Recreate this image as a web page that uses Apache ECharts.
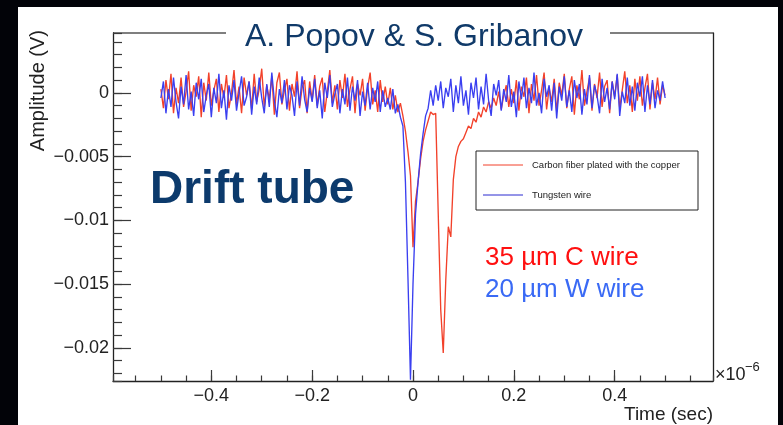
<!DOCTYPE html>
<html>
<head>
<meta charset="utf-8">
<script src="https://cdn.jsdelivr.net/npm/echarts@6/dist/echarts.min.js"></script>
<style>
html,body{margin:0;padding:0;background:#020308;width:783px;height:425px;overflow:hidden;}
#panel{position:absolute;left:18px;top:7px;width:760px;height:418px;background:#ffffff;}
#c{position:absolute;left:0;top:0;width:783px;height:425px;}
</style>
</head>
<body>
<div id="panel"></div>
<div id="c"></div>
<script>
// Sampling times in microseconds (axis shown with x10^-6 multiplier)
const timeMicroseconds = [
-0.5,-0.495,-0.49,-0.485,-0.48,-0.475,-0.47,-0.465,-0.46,-0.455,-0.45,-0.445,-0.44,-0.435,-0.43,-0.425,-0.42,-0.415,-0.41,-0.405,
-0.4,-0.395,-0.39,-0.385,-0.38,-0.375,-0.37,-0.365,-0.36,-0.355,-0.35,-0.345,-0.34,-0.335,-0.33,-0.325,-0.32,-0.315,-0.31,-0.305,
-0.3,-0.295,-0.29,-0.285,-0.28,-0.275,-0.27,-0.265,-0.26,-0.255,-0.25,-0.245,-0.24,-0.235,-0.23,-0.225,-0.22,-0.215,-0.21,-0.205,
-0.2,-0.195,-0.19,-0.185,-0.18,-0.175,-0.17,-0.165,-0.16,-0.155,-0.15,-0.145,-0.14,-0.135,-0.13,-0.125,-0.12,-0.115,-0.11,-0.105,
-0.1,-0.095,-0.09,-0.085,-0.08,-0.075,-0.07,-0.065,-0.06,-0.055,-0.05,-0.045,-0.04,-0.035,-0.03,-0.025,-0.02,-0.015,-0.01,-0.005,
0,0.005,0.01,0.015,0.02,0.025,0.03,0.035,0.04,0.045,0.05,0.055,0.06,0.065,0.07,0.075,0.08,0.085,0.09,0.095,
0.1,0.105,0.11,0.115,0.12,0.125,0.13,0.135,0.14,0.145,0.15,0.155,0.16,0.165,0.17,0.175,0.18,0.185,0.19,0.195,
0.2,0.205,0.21,0.215,0.22,0.225,0.23,0.235,0.24,0.245,0.25,0.255,0.26,0.265,0.27,0.275,0.28,0.285,0.29,0.295,
0.3,0.305,0.31,0.315,0.32,0.325,0.33,0.335,0.34,0.345,0.35,0.355,0.36,0.365,0.37,0.375,0.38,0.385,0.39,0.395,
0.4,0.405,0.41,0.415,0.42,0.425,0.43,0.435,0.44,0.445,0.45,0.455,0.46,0.465,0.47,0.475,0.48,0.485,0.49,0.495,
0.5
];

// Amplitude in millivolts (axis labels shown in volts)
const carbonMilliVolts = [
0.3,-1.2,1.0,-0.5,1.5,-1.6,0.4,-0.8,1.2,-1.1,
0.1,1.7,-1.4,0.6,-0.3,1.3,-1.9,0.8,-0.6,1.6,
-1.0,0.2,1.1,-1.5,0.7,-0.4,1.4,-1.2,0.0,1.8,
-0.9,0.5,-1.6,1.2,-0.2,0.9,-1.3,1.5,-0.7,0.3,
1.9,-1.1,0.6,-0.5,1.3,-1.7,0.8,1.6,-0.9,0.2,
1.1,-1.4,0.7,-0.3,1.7,-1.2,0.4,1.0,-1.6,0.9,
-0.6,1.4,-1.0,0.5,1.2,-1.5,0.1,1.8,-0.8,0.6,
-1.3,1.0,-0.4,1.5,-1.1,0.3,1.3,-1.6,0.7,-0.2,
1.1,-1.4,0.4,1.6,-0.9,0.2,-1.5,1.0,-0.7,0.5,
-0.9,0.4,-1.3,-0.2,-1.5,-0.8,-1.8,-3.0,-4.6,-6.5,
-12.1,-8.5,-7.0,-5.2,-3.8,-2.9,-2.2,-1.5,-1.7,-1.6,
-9.4,-17.0,-20.4,-14.7,-10.5,-11.3,-6.8,-5.0,-4.2,-3.8,
-3.6,-3.1,-2.6,-2.8,-2.0,-2.3,-1.5,-1.9,-1.1,-1.5,
-0.7,-1.2,-0.4,-1.0,0.1,-1.3,-0.2,0.6,-1.1,0.3,
-0.8,1.0,-1.4,0.5,-0.3,1.2,-1.6,0.7,-0.6,1.4,
-1.0,0.2,1.6,-1.3,0.4,-0.7,1.1,-1.5,0.8,-0.2,
1.5,-1.2,0.3,1.3,-1.7,0.6,-0.5,1.8,-1.0,0.1,
1.2,-1.4,0.7,-0.4,1.6,-1.1,0.5,1.0,-1.6,0.9,
-0.3,1.4,-1.2,0.2,1.7,-0.8,0.6,-1.5,1.1,-0.6,
1.3,-1.0,0.4,1.5,-1.3,0.8,-0.5,1.2,-0.9,0.6,
-0.2
];

const tungstenMilliVolts = [
-0.4,0.9,-1.6,0.3,-1.1,1.2,-0.7,-2.0,0.5,-0.9,
1.4,-1.3,0.1,-1.8,0.8,-0.5,1.1,-1.5,-0.2,0.7,
-1.9,0.4,-0.8,1.5,-1.2,0.2,-2.1,0.6,-0.6,1.0,
-1.4,0.0,1.3,-1.0,-0.3,0.9,-1.7,0.5,-0.9,1.2,
-0.4,-1.6,0.7,-1.1,1.6,-0.6,-1.9,0.3,-0.8,1.0,
-1.3,0.6,-0.2,-1.8,0.9,-1.0,1.3,-0.5,-1.5,0.4,
-0.7,1.1,-1.2,0.2,-2.0,0.8,-0.4,1.4,-1.1,-0.1,
0.7,-1.6,0.3,-0.9,1.2,-1.4,0.5,-0.6,1.0,-1.8,
0.1,-1.0,0.8,-1.3,0.4,-0.7,0.9,-1.5,0.2,-1.1,
-0.4,-1.3,0.3,-1.6,-0.9,-1.9,-2.6,-7.0,-14.5,-22.5,
-15.0,-9.5,-7.0,-4.8,-3.2,-1.8,-1.2,0.2,-1.0,0.6,
-0.6,0.9,-1.2,0.4,-0.3,1.1,-1.5,0.6,-0.8,1.3,
-1.0,0.2,-1.7,0.8,-0.4,1.2,-1.3,0.5,-0.9,1.5,
-0.6,-1.8,0.7,-0.2,1.0,-1.4,0.3,-0.7,1.4,-1.1,
0.1,-1.9,0.9,-0.5,1.2,-1.2,0.4,-0.8,1.6,-1.0,
0.0,-1.6,1.1,-0.3,0.6,-1.4,0.8,-2.0,0.5,-0.6,
1.3,-1.1,0.2,-1.5,1.0,-0.4,0.7,-1.7,0.3,-0.9,
1.4,-1.2,0.6,-0.2,-1.6,1.1,-0.7,0.4,-1.3,0.9,
-0.5,1.5,-1.8,0.1,-0.8,1.2,-1.0,0.5,-1.4,0.8,
-0.3,1.3,-1.5,0.6,-0.9,1.0,-1.2,0.2,-0.6,0.9,
-0.4
];

const seriesNames = ['Carbon fiber plated with the copper', 'Tungsten wire'];
const seriesColors = ['#f2412a', '#3a3ff0'];
const titleText = 'A. Popov & S. Gribanov';
const overlayTitle = 'Drift tube';
const wireLabels = ['35 \u00b5m C wire', '20 \u00b5m W wire'];
const xAxisTitle = 'Time (sec)';
const yAxisTitle = 'Amplitude (V)';

const FONT = '"Liberation Sans", Arial, Helvetica, sans-serif';
const MINUS = '\u2212';

function pairs(ts, vs) { return ts.map((t, i) => [t, vs[i]]); }

const xRange = [-0.595, 0.595];
const yRange = [-22.6, 4.7];

const xLabelFmt = v => {
  if (Math.abs(v) < 1e-9) return '0';
  const s = String(Math.round(Math.abs(v) * 1000) / 1000);
  return v < 0 ? MINUS + s : s;
};
const yLabelFmt = v => {
  if (Math.abs(v) < 1e-9) return '0';
  const s = String(Math.round(Math.abs(v) * 1000) / 1e6);
  return v < 0 ? MINUS + s : s;
};

const lineCol = '#222';
const tickCol = '#3a3a3a';

const chart = echarts.init(document.getElementById('c'), null, {renderer: 'canvas'});
const option = {
  animation: false,
  backgroundColor: 'transparent',
  grid: {left: 113, right: 70, top: 33, bottom: 44, show: false},
  xAxis: [
    {
      type: 'value', position: 'bottom', min: xRange[0], max: xRange[1],
      minInterval: 0.2, maxInterval: 0.2, splitNumber: 6,
      axisLine: {show: true, onZero: false, lineStyle: {color: lineCol, width: 1.3}},
      axisTick: {show: true, inside: true, length: 11, lineStyle: {color: tickCol, width: 1.2}},
      axisLabel: {show: true, formatter: xLabelFmt, fontSize: 18, fontFamily: FONT, color: '#222', margin: 6, showMinLabel: false, showMaxLabel: false},
      splitLine: {show: false}
    },
    {
      type: 'value', position: 'bottom', min: xRange[0], max: xRange[1],
      minInterval: 0.05, maxInterval: 0.05, splitNumber: 24,
      axisLine: {show: false, onZero: false},
      axisTick: {show: true, inside: true, length: 5.5, lineStyle: {color: tickCol, width: 1.2}},
      axisLabel: {show: false},
      splitLine: {show: false}
    }
  ],
  yAxis: [
    {
      type: 'value', position: 'left', min: yRange[0], max: yRange[1],
      minInterval: 5, maxInterval: 5, splitNumber: 5,
      axisLine: {show: true, onZero: false, lineStyle: {color: lineCol, width: 1.3}},
      axisTick: {show: true, inside: true, length: 18, lineStyle: {color: tickCol, width: 1.2}},
      axisLabel: {show: true, formatter: yLabelFmt, fontSize: 18, fontFamily: FONT, color: '#222', margin: 4, showMinLabel: false, showMaxLabel: false},
      splitLine: {show: false}
    },
    {
      type: 'value', position: 'left', min: yRange[0], max: yRange[1],
      minInterval: 1, maxInterval: 1, splitNumber: 27,
      axisLine: {show: false, onZero: false},
      axisTick: {show: true, inside: true, length: 9, lineStyle: {color: tickCol, width: 1.2}},
      axisLabel: {show: false},
      splitLine: {show: false}
    },
    {
      type: 'value', position: 'right', min: yRange[0], max: yRange[1],
      axisLine: {show: true, onZero: false, lineStyle: {color: lineCol, width: 1.3}},
      axisTick: {show: false}, axisLabel: {show: false}, splitLine: {show: false}
    }
  ],
  series: [
    {
      name: seriesNames[0], type: 'line', xAxisIndex: 0, yAxisIndex: 0,
      data: pairs(timeMicroseconds, carbonMilliVolts),
      showSymbol: false, symbol: 'none', sampling: null,
      lineStyle: {color: seriesColors[0], width: 1.35}, itemStyle: {color: seriesColors[0]}, z: 3
    },
    {
      name: seriesNames[1], type: 'line', xAxisIndex: 0, yAxisIndex: 0,
      data: pairs(timeMicroseconds, tungstenMilliVolts),
      showSymbol: false, symbol: 'none', sampling: null,
      lineStyle: {color: seriesColors[1], width: 1.35}, itemStyle: {color: seriesColors[1]}, z: 4
    }
  ],
  graphic: [
    // top frame, broken where the title sits
    {type: 'line', shape: {x1: 113, y1: 33, x2: 226, y2: 33}, style: {stroke: '#555', lineWidth: 1.3}, silent: true},
    {type: 'line', shape: {x1: 610, y1: 33, x2: 713, y2: 33}, style: {stroke: '#555', lineWidth: 1.3}, silent: true},
    {type: 'text', x: 245, y: 37, style: {text: titleText, font: '32px ' + FONT, fill: '#103a69', align: 'left', verticalAlign: 'middle'}},
    {type: 'text', x: 150, y: 190, z: 10, style: {text: overlayTitle, font: 'bold 46px ' + FONT, fill: '#0c3a6c', align: 'left', verticalAlign: 'middle'}},
    {type: 'text', x: 38, y: 30, rotation: Math.PI / 2, style: {text: yAxisTitle, font: '20px ' + FONT, fill: '#222', align: 'right', verticalAlign: 'middle'}},
    {type: 'text', x: 713, y: 415, style: {text: xAxisTitle, font: '19px ' + FONT, fill: '#222', align: 'right', verticalAlign: 'middle'}},
    {type: 'text', x: 715, y: 375, style: {text: '\u00d710', font: '18px ' + FONT, fill: '#222', align: 'left', verticalAlign: 'middle'}},
    {type: 'text', x: 745, y: 367, style: {text: MINUS + '6', font: '13px ' + FONT, fill: '#222', align: 'left', verticalAlign: 'middle'}},
    // legend box
    {type: 'rect', z: 10, shape: {x: 476, y: 151, width: 222, height: 59}, style: {fill: '#fff', stroke: '#222', lineWidth: 1}},
    {type: 'line', z: 11, shape: {x1: 483, y1: 165, x2: 523, y2: 165}, style: {stroke: seriesColors[0], lineWidth: 1}},
    {type: 'text', z: 11, x: 532, y: 165, style: {text: seriesNames[0], font: '9.5px ' + FONT, fill: '#222', align: 'left', verticalAlign: 'middle'}},
    {type: 'line', z: 11, shape: {x1: 483, y1: 195, x2: 523, y2: 195}, style: {stroke: '#2a2ad0', lineWidth: 1}},
    {type: 'text', z: 11, x: 532, y: 195, style: {text: seriesNames[1], font: '9.5px ' + FONT, fill: '#222', align: 'left', verticalAlign: 'middle'}},
    {type: 'text', z: 11, x: 485, y: 258, style: {text: wireLabels[0], font: '26px ' + FONT, fill: '#ff1010', align: 'left', verticalAlign: 'middle'}},
    {type: 'text', z: 11, x: 485, y: 290, style: {text: wireLabels[1], font: '26px ' + FONT, fill: '#3a6af5', align: 'left', verticalAlign: 'middle'}}
  ]
};
chart.setOption(option);
</script>
</body>
</html>
